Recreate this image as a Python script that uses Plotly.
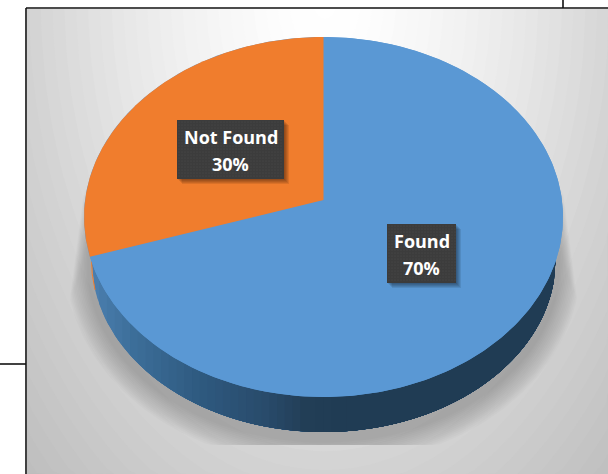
import numpy as np
import plotly.graph_objects as go

# ---- data ----
categories = ["Found", "Not Found"]
shares = [70, 30]
slice_colors = ["#5a98d4", "#f07d2d"]

# ---- geometry (pixel space) ----
W, H = 608, 474
FRAME_L, FRAME_T = 26, 8
CX, VX_Y, BACK_Y, FRONT_Y = 323.5, 200.0, 37.0, 397.0
RX = 239.5
BASE_CY, BASE_RX, BASE_RY = 260.0, 232.0, 172.0

c = ((FRONT_Y + BACK_Y) - 2 * VX_Y) / (FRONT_Y - BACK_Y)
a = BACK_Y * (1 + c) - VX_Y
R = RX * np.sqrt(1 - c * c)


def project(theta):
    """theta measured clockwise from 12 o'clock on the pie's disc."""
    u, v = np.sin(theta), np.cos(theta)
    d = 1 + c * v
    return CX + R * u / d, (VX_Y + a * v) / d


fig = go.Figure()


def poly(x, y, color):
    fig.add_trace(go.Scatter(x=x, y=y, mode="lines", fill="toself", fillcolor=color,
                             line=dict(width=0, color=color),
                             hoverinfo="skip", showlegend=False))


# ---- background: concentric banded glow ----
t = np.linspace(0, 2 * np.pi, 240)
BG_CX, BG_CY, BG_RX, BG_RY = 325.0, 0.0, 296.0, 470.0
for r in np.arange(1.6, 0.02, -0.04):
    v = 255 - 43 * r ** 1.6 if r <= 1 else 212 - 49 * (r - 1)
    g = int(round(v))
    poly(np.clip(BG_CX + BG_RX * r * np.cos(t), FRAME_L + 1, W),
         np.clip(BG_CY + BG_RY * r * np.sin(t), FRAME_T + 1, H),
         f"rgb({g},{g},{g})")

# ---- soft shadow under the pie ----
SH_BOTTOM = 445
n_sh = 14
for k in range(n_sh):
    f = 1 - k / n_sh
    rx = BASE_RX + 3 + 22 * f
    ry = BASE_RY + 3 + 25 * f
    sx = CX + rx * np.cos(t)
    sy = BASE_CY + 6 + ry * np.sin(t)
    sy = np.minimum(sy, SH_BOTTOM)
    lim = np.where(sy < 313, (313 - sy) * 0.13, 0.0)
    sx = np.clip(sx, 68 + lim + k * 0.8, 579 - lim - k * 0.8)
    poly(sx, sy, "rgba(0,0,0,0.015)")

# ---- front wall of the pie (painted left to right, each band overlapping the rest) ----
grad_x = [90, 133, 200, 267, 304, 340, 556]
grad_r = [76, 61, 47, 41, 35, 32, 32]
grad_g = [128, 111, 90, 75, 63, 60, 60]
grad_b = [176, 154, 128, 107, 87, 84, 84]
edges = np.linspace(CX - BASE_RX, CX + BASE_RX, 61)
for x0, x1 in zip(edges[:-1], edges[1:]):
    if x0 > 345:
        x1 = edges[-1]
    xs = np.linspace(x0, CX + BASE_RX, 160)
    ys = BASE_CY + BASE_RY * np.sqrt(np.clip(1 - ((xs - CX) / BASE_RX) ** 2, 0, 1))
    m = (x0 + x1) / 2
    col = "rgb(%d,%d,%d)" % (np.interp(m, grad_x, grad_r), np.interp(m, grad_x, grad_g), np.interp(m, grad_x, grad_b))
    poly(np.r_[xs, xs[-1], x0], np.r_[ys, BASE_CY - 10, BASE_CY - 10], col)
    if x0 > 345:
        break

# sliver of the orange slice's wall on the far left
arc = np.radians(np.linspace(180, 170, 12))
fig.add_trace(go.Scatter(x=CX + BASE_RX * np.cos(arc), y=BASE_CY + BASE_RY * np.sin(arc), mode="lines",
                         line=dict(color=slice_colors[1], width=1), hoverinfo="skip", showlegend=False))

# ---- top face, built from the shares ----
px, py = project(np.linspace(0, 2 * np.pi, 480))
poly(px, py, slice_colors[0])
total = sum(shares)
start = 0.0
for share, color in zip(shares, slice_colors):
    sweep = 2 * np.pi * share / total
    th = np.linspace(start, start + sweep, 240)
    px, py = project(th)
    poly(np.r_[CX, px, CX], np.r_[VX_Y, py, VX_Y], color)
    start += sweep

# ---- data labels ----
boxes = [(387, 456, 224, 283, 421.5, categories[0], shares[0]),
         (177, 284, 120, 179, 230.5, categories[1], shares[1])]
for x0, x1, y0, y1, xc, cat, val in boxes:
    for k in range(5):
        o = 1 + k
        poly([x0 + o, x1 + o, x1 + o, x0 + o, x0 + o], [y0 + o, y0 + o, y1 + o, y1 + o, y0 + o], "rgba(0,0,0,0.09)")
    poly([x0, x1, x1, x0, x0], [y0, y0, y1, y1, y0], "#3c3c3c")
    gx, gy = np.meshgrid(np.arange(x0 + 2, x1, 3.0), np.arange(y0 + 2, y1, 3.0))
    fig.add_trace(go.Scatter(x=gx.ravel(), y=gy.ravel(), mode="markers",
                             marker=dict(size=1.1, color="#4e4e4e"), hoverinfo="skip", showlegend=False))
    ym = (y0 + y1) / 2
    for text, yy in ((cat, ym - 13), (f"{val}%", ym + 14)):
        fig.add_annotation(x=xc, y=yy, xref="x", yref="y", showarrow=False,
                           text=f"<b>{text}</b>", align="center",
                           font=dict(family="Open Sans", size=18, color="white"))

# ---- frame lines ----
frame = [(FRAME_L, FRAME_T, FRAME_L, H), (FRAME_L, FRAME_T, W, FRAME_T), (0, 364, FRAME_L, 364), (563, 0, 563, FRAME_T)]
for x0, y0, x1, y1 in frame:
    fig.add_shape(type="line", x0=x0, y0=y0, x1=x1, y1=y1, xref="x", yref="y",
                  line=dict(color="#111111", width=1.6), layer="above")

fig.update_layout(width=W, height=H, margin=dict(l=0, r=0, t=0, b=0), showlegend=False,
                  paper_bgcolor="white", plot_bgcolor="white",
                  xaxis=dict(range=[0, W], visible=False, fixedrange=True),
                  yaxis=dict(range=[H, 0], visible=False, fixedrange=True))

fig.write_html("out.html", config=dict(displayModeBar=False),
               post_script="document.body.style.margin='0';document.body.style.overflow='hidden';")
